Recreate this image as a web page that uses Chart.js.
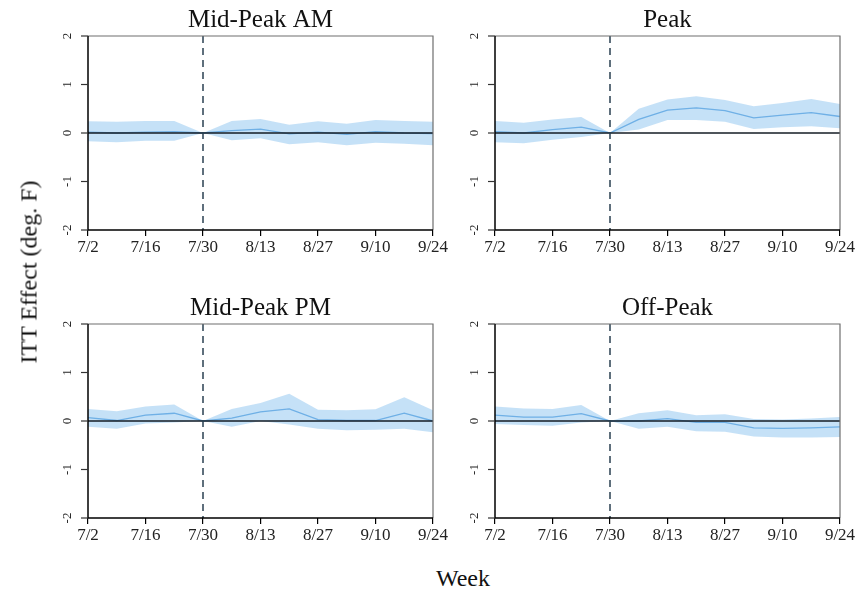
<!DOCTYPE html>
<html>
<head>
<meta charset="utf-8">
<script src="https://cdn.jsdelivr.net/npm/chart.js@4.4.1/dist/chart.umd.min.js"></script>
<style>
  html, body { margin: 0; padding: 0; background: #fff; }
  #wrap { position: relative; width: 859px; height: 594px; overflow: hidden; }
  #wrap canvas { position: absolute; }
  .axis-title { position: absolute; font-family: "Liberation Serif", serif; font-size: 24px; color: #111; white-space: nowrap; }
  #ylab { left: 29px; top: 272px; transform: translate(-50%, -50%) rotate(-90deg); }
  #xlab { left: 463px; top: 578px; transform: translate(-50%, -50%); }
</style>
</head>
<body>
<div id="wrap">
  <canvas id="p0" width="410" height="262" style="left:40px;top:0px"></canvas>
  <canvas id="p1" width="410" height="262" style="left:447px;top:0px"></canvas>
  <canvas id="p2" width="410" height="262" style="left:40px;top:288px"></canvas>
  <canvas id="p3" width="410" height="262" style="left:447px;top:288px"></canvas>
  <div class="axis-title" id="ylab">ITT Effect (deg. F)</div>
  <div class="axis-title" id="xlab">Week</div>
</div>
<script>
// Weekly ITT estimates with 95% confidence bands, by time-of-day block
const weeks = ['7/2','7/9','7/16','7/23','7/30','8/6','8/13','8/20','8/27','9/3','9/10','9/17','9/24'];
const weekTicks = ['7/2','7/16','7/30','8/13','8/27','9/10','9/24'];
const yTicks = [-2, -1, 0, 1, 2];
const startWeek = '7/30';

const panelTitles = ['Mid-Peak AM', 'Peak', 'Mid-Peak PM', 'Off-Peak'];

const midAmEst = [0.02, 0.00, 0.02, 0.03, 0, 0.05, 0.08, -0.02, 0.02, -0.03, 0.03, 0.00, -0.01];
const midAmHi  = [0.24, 0.23, 0.25, 0.25, 0, 0.25, 0.29, 0.17, 0.24, 0.19, 0.27, 0.25, 0.23];
const midAmLo  = [-0.17, -0.19, -0.16, -0.16, 0, -0.15, -0.11, -0.23, -0.19, -0.25, -0.20, -0.22, -0.25];

const peakEst = [0.03, 0.00, 0.07, 0.12, 0, 0.28, 0.47, 0.52, 0.46, 0.31, 0.37, 0.42, 0.34];
const peakHi  = [0.25, 0.21, 0.28, 0.33, 0, 0.50, 0.69, 0.76, 0.68, 0.55, 0.62, 0.70, 0.60];
const peakLo  = [-0.19, -0.21, -0.14, -0.08, 0, 0.07, 0.27, 0.27, 0.23, 0.08, 0.12, 0.14, 0.10];

const midPmEst = [0.07, 0.01, 0.12, 0.16, 0, 0.06, 0.19, 0.25, 0.03, 0.01, 0.01, 0.16, 0.00];
const midPmHi  = [0.25, 0.20, 0.30, 0.34, 0, 0.25, 0.37, 0.56, 0.23, 0.22, 0.24, 0.49, 0.22];
const midPmLo  = [-0.12, -0.16, -0.05, -0.03, 0, -0.12, 0.00, -0.07, -0.16, -0.19, -0.18, -0.16, -0.23];

const offEst = [0.12, 0.08, 0.08, 0.15, 0, 0.00, 0.05, -0.03, -0.03, -0.14, -0.15, -0.14, -0.12];
const offHi  = [0.30, 0.26, 0.25, 0.33, 0, 0.16, 0.22, 0.12, 0.14, 0.04, 0.03, 0.05, 0.08];
const offLo  = [-0.06, -0.08, -0.10, -0.03, 0, -0.16, -0.12, -0.21, -0.22, -0.32, -0.34, -0.34, -0.33];

const panels = [
  [midAmEst, midAmLo, midAmHi],
  [peakEst, peakLo, peakHi],
  [midPmEst, midPmLo, midPmHi],
  [offEst, offLo, offHi]
];

const SERIF = '"Liberation Serif", "Times New Roman", serif';
const BAND = 'rgba(140, 195, 240, 0.5)';
const LINE = '#6fb0e6';

// Frame, zero line, treatment-start marker, rotated y labels and panel title
const panelDecor = {
  id: 'panelDecor',
  afterDatasetsDraw(chart, args, opts) {
    const { ctx, chartArea: a, scales: { x, y } } = chart;
    ctx.save();
    // zero reference line
    const y0 = y.getPixelForValue(0);
    ctx.strokeStyle = '#141c24';
    ctx.lineWidth = 1.5;
    ctx.beginPath(); ctx.moveTo(a.left, y0); ctx.lineTo(a.right, y0); ctx.stroke();
    // dashed vertical at program start
    const xs = x.getPixelForValue(weeks.indexOf(startWeek));
    ctx.strokeStyle = '#2a4052';
    ctx.lineWidth = 1.5;
    ctx.setLineDash([7, 5]);
    ctx.beginPath(); ctx.moveTo(xs, a.top); ctx.lineTo(xs, a.bottom); ctx.stroke();
    ctx.setLineDash([]);
    // box: grey top/right, black left/bottom
    ctx.lineWidth = 1.2;
    ctx.strokeStyle = '#6e6e6e';
    ctx.beginPath(); ctx.moveTo(a.left, a.top); ctx.lineTo(a.right, a.top); ctx.lineTo(a.right, a.bottom); ctx.stroke();
    ctx.strokeStyle = '#000';
    ctx.lineWidth = 1.5;
    ctx.beginPath(); ctx.moveTo(a.left, a.top); ctx.lineTo(a.left, a.bottom); ctx.lineTo(a.right, a.bottom); ctx.stroke();
    // y tick marks and rotated labels
    ctx.fillStyle = '#222';
    ctx.font = '13px ' + SERIF;
    ctx.textAlign = 'center';
    ctx.textBaseline = 'middle';
    ctx.lineWidth = 1.2;
    ctx.strokeStyle = '#333';
    yTicks.forEach(v => {
      const py = y.getPixelForValue(v);
      ctx.beginPath(); ctx.moveTo(a.left - 7, py); ctx.lineTo(a.left, py); ctx.stroke();
      ctx.save();
      ctx.translate(a.left - 20, py);
      ctx.rotate(-Math.PI / 2);
      ctx.fillText(String(v), 0, 0);
      ctx.restore();
    });
    // title
    ctx.fillStyle = '#111';
    ctx.font = '25px ' + SERIF;
    ctx.textBaseline = 'alphabetic';
    ctx.fillText(opts.title, (a.left + a.right) / 2, 27);
    ctx.restore();
  }
};

panels.forEach(([est, lo, hi], i) => {
  new Chart(document.getElementById('p' + i), {
    type: 'line',
    data: {
      labels: weeks,
      datasets: [
        { data: est, borderColor: LINE, borderWidth: 1.3, pointRadius: 0, fill: false, order: 0 },
        { data: hi, borderWidth: 0, borderColor: 'transparent', backgroundColor: BAND, pointRadius: 0, fill: '+1', order: 1 },
        { data: lo, borderWidth: 0, borderColor: 'transparent', pointRadius: 0, fill: false, order: 2 }
      ]
    },
    options: {
      responsive: false,
      animation: false,
      devicePixelRatio: 1,
      layout: { padding: { top: 36, right: 17, left: 0, bottom: 0 } },
      plugins: {
        legend: { display: false },
        tooltip: { enabled: false },
        panelDecor: { title: panelTitles[i] }
      },
      elements: { line: { tension: 0 } },
      scales: {
        x: {
          offset: false,
          border: { display: false },
          grid: { display: true, drawOnChartArea: false, drawTicks: true, tickLength: 6, color: '#000', lineWidth: 1.2 },
          ticks: {
            autoSkip: false, maxRotation: 0, minRotation: 0, padding: 1,
            color: '#222', font: { family: SERIF, size: 17 },
            callback(v) { const l = weeks[v]; return weekTicks.includes(l) ? l : null; }
          },
          afterFit(s) { s.height = 32; }
        },
        y: {
          min: -2, max: 2,
          border: { display: false },
          grid: { display: false },
          ticks: { display: false, stepSize: 1 },
          afterFit(s) { s.width = 48; }
        }
      }
    },
    plugins: [panelDecor]
  });
});
</script>
</body>
</html>
